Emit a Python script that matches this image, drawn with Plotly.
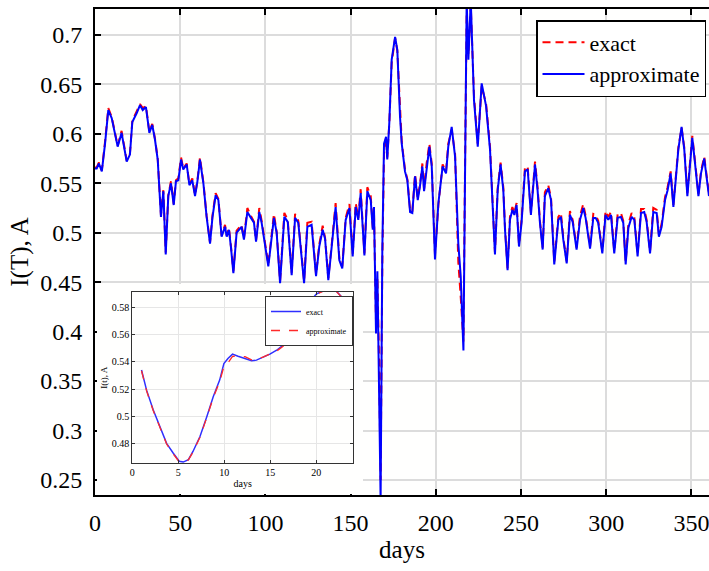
import plotly.graph_objects as go

# ---------------- main chart data ----------------
days = [0, 1, 2.3, 4, 5.9, 7.8, 9.8, 11.3, 13.3, 15.6, 18.6, 20.5, 21.9, 24.5, 26.4, 28, 29.9,
        31.9, 33.6, 35.2, 36.8, 38.7, 40.1, 41.5, 43, 44.6, 46.2, 47.5, 48.9, 50.5, 51.8, 53.8,
        55.4, 57.1, 58.7, 60.1, 61.6, 63.6, 65.5, 67.5, 68.9, 70.8, 72.4, 74.3, 76.3, 77.3, 78.6,
        79.8, 81.2, 83.1, 86, 87.4, 89.4, 91.5, 93.3, 94.5, 96.4, 97.8, 99.8, 101.7, 105, 106.6,
        108.6, 111.1, 113.1, 115.4, 117.4, 119.3, 122.7, 124.6, 127.1, 129.7, 131.6, 133.6, 135,
        136.9, 138.9, 141.2, 143.4, 145.1, 147.1, 149.3, 151.2, 153, 154.5, 155.9, 158.1, 159.8,
        161.8, 163, 163.7, 164.9, 165.7, 166.7, 167.6, 168.6, 169.6, 170.8, 171.5, 172.7, 174.1,
        176.1, 177.4, 179, 180, 181.9, 183.3, 184.9, 186.2, 187.8, 189.4, 190.7, 192.1, 193.1,
        194.6, 196.2, 197.6, 199.5, 201.5, 204, 206, 207.3, 209.3, 211.3, 213.2, 214.6, 216.2,
        217.1, 218.1, 219.1, 220.5, 222.4, 224.6, 226.9, 229.5, 231.8, 234.7, 236.3, 238, 239.6,
        240.6, 242.1, 243.5, 244.9, 246.1, 247.4, 248.8, 250.3, 252.3, 253.9, 255.8, 258.2, 259.7,
        261.1, 262.7, 264, 266, 267.6, 269.5, 271.9, 273.4, 274.8, 276.8, 278.7, 280.3, 282.6,
        284.6, 286.5, 287.9, 290.5, 292.4, 293.8, 295.3, 297.7, 299.6, 301.2, 302.8, 304.7, 306.7,
        308.6, 310, 311.4, 313, 314.9, 316.5, 318.4, 320.4, 322.3, 323.7, 325.7, 327.6, 329.6,
        330.9, 332.5, 334.5, 336, 337.8, 339.4, 340.3, 342.3, 344.2, 345.8, 347.6, 349.1, 350.5,
        352.1, 354.1, 355.6, 357.5, 360.3]

approximate = [0.565, 0.565, 0.570, 0.562, 0.590, 0.624, 0.616, 0.604, 0.587, 0.601, 0.572, 0.579,
               0.612, 0.621, 0.629, 0.624, 0.627, 0.601, 0.609, 0.594, 0.574, 0.516, 0.542, 0.478,
               0.537, 0.550, 0.528, 0.552, 0.553, 0.574, 0.564, 0.569, 0.548, 0.553, 0.537, 0.552,
               0.574, 0.550, 0.516, 0.489, 0.515, 0.538, 0.533, 0.496, 0.506, 0.496, 0.503, 0.485,
               0.459, 0.500, 0.506, 0.493, 0.521, 0.515, 0.510, 0.491, 0.521, 0.510, 0.488, 0.466,
               0.515, 0.500, 0.449, 0.516, 0.511, 0.457, 0.515, 0.510, 0.449, 0.506, 0.508, 0.456,
               0.486, 0.503, 0.494, 0.452, 0.486, 0.526, 0.472, 0.464, 0.513, 0.525, 0.476, 0.526,
               0.513, 0.540, 0.477, 0.542, 0.533, 0.503, 0.526, 0.398, 0.461, 0.348, 0.230, 0.483,
               0.590, 0.597, 0.574, 0.611, 0.675, 0.698, 0.685, 0.617, 0.590, 0.562, 0.553, 0.521,
               0.520, 0.557, 0.533, 0.547, 0.567, 0.542, 0.567, 0.587, 0.567, 0.473, 0.530, 0.567,
               0.560, 0.587, 0.607, 0.577, 0.489, 0.456, 0.381, 0.567, 0.735, 0.675, 0.735, 0.634,
               0.587, 0.651, 0.628, 0.584, 0.478, 0.543, 0.569, 0.543, 0.503, 0.462, 0.513, 0.523,
               0.518, 0.528, 0.486, 0.510, 0.562, 0.564, 0.518, 0.569, 0.543, 0.510, 0.483, 0.537,
               0.545, 0.533, 0.468, 0.513, 0.516, 0.493, 0.469, 0.518, 0.511, 0.483, 0.513, 0.525,
               0.515, 0.484, 0.515, 0.515, 0.510, 0.479, 0.518, 0.513, 0.518, 0.479, 0.515, 0.516,
               0.510, 0.468, 0.505, 0.516, 0.513, 0.476, 0.520, 0.521, 0.511, 0.479, 0.521, 0.520,
               0.496, 0.506, 0.533, 0.543, 0.560, 0.526, 0.543, 0.584, 0.607, 0.584, 0.537, 0.570,
               0.596, 0.570, 0.537, 0.560, 0.575, 0.537]

exact = [0.566, 0.566, 0.571, 0.563, 0.592, 0.626, 0.617, 0.604, 0.588, 0.603, 0.573, 0.580,
         0.613, 0.623, 0.630, 0.626, 0.628, 0.602, 0.610, 0.595, 0.575, 0.518, 0.543, 0.480,
         0.538, 0.552, 0.529, 0.553, 0.555, 0.576, 0.565, 0.570, 0.549, 0.555, 0.538, 0.553,
         0.576, 0.551, 0.517, 0.490, 0.517, 0.540, 0.534, 0.497, 0.508, 0.497, 0.505, 0.486,
         0.461, 0.502, 0.508, 0.494, 0.525, 0.517, 0.511, 0.492, 0.525, 0.512, 0.489, 0.468,
         0.519, 0.501, 0.451, 0.520, 0.513, 0.459, 0.519, 0.512, 0.451, 0.510, 0.511, 0.458,
         0.488, 0.507, 0.495, 0.454, 0.488, 0.530, 0.474, 0.466, 0.515, 0.529, 0.478, 0.530,
         0.515, 0.544, 0.479, 0.546, 0.537, 0.505, 0.522, 0.410, 0.455, 0.370, 0.250, 0.470,
         0.580, 0.596, 0.576, 0.610, 0.672, 0.697, 0.684, 0.620, 0.592, 0.564, 0.554, 0.523,
         0.521, 0.559, 0.535, 0.549, 0.570, 0.544, 0.570, 0.590, 0.570, 0.478, 0.528, 0.569,
         0.562, 0.590, 0.604, 0.580, 0.470, 0.435, 0.390, 0.560, 0.720, 0.680, 0.730, 0.638,
         0.590, 0.648, 0.630, 0.587, 0.480, 0.545, 0.571, 0.546, 0.505, 0.464, 0.516, 0.526,
         0.520, 0.530, 0.488, 0.513, 0.566, 0.567, 0.520, 0.572, 0.546, 0.512, 0.485, 0.541,
         0.548, 0.535, 0.470, 0.516, 0.520, 0.495, 0.471, 0.522, 0.513, 0.485, 0.517, 0.529,
         0.517, 0.486, 0.519, 0.518, 0.512, 0.481, 0.522, 0.516, 0.521, 0.481, 0.519, 0.520,
         0.512, 0.470, 0.509, 0.520, 0.515, 0.478, 0.524, 0.524, 0.513, 0.481, 0.525, 0.523,
         0.498, 0.509, 0.536, 0.546, 0.562, 0.528, 0.546, 0.586, 0.606, 0.586, 0.540, 0.572,
         0.598, 0.572, 0.539, 0.562, 0.577, 0.539]

x_ticks = [0, 50, 100, 150, 200, 250, 300, 350]
y_ticks = [0.25, 0.3, 0.35, 0.4, 0.45, 0.5, 0.55, 0.6, 0.65, 0.7]
y_tick_text = ["0.25", "0.3", "0.35", "0.4", "0.45", "0.5", "0.55", "0.6", "0.65", "0.7"]

# ---------------- inset data ----------------
inset_days = [1.0, 1.56, 2.28, 3.0, 3.73, 4.46, 5.1, 5.54, 6.1, 6.6, 7.36, 8.1, 8.8, 9.5, 9.96,
              10.4, 10.9, 11.5, 12.25, 12.97, 13.5, 14.2, 14.96, 15.7, 16.4, 17.1, 17.9, 18.6,
              19.3, 20.0, 20.8, 21.5, 22.2, 22.9, 23.5, 24.0]
inset_exact = [0.534, 0.519, 0.5045, 0.492, 0.480, 0.4727, 0.4668, 0.4662, 0.468, 0.474, 0.485,
               0.4996, 0.5143, 0.5266, 0.5388, 0.5425, 0.5457, 0.5442, 0.5425, 0.5408, 0.5413,
               0.5432, 0.5457, 0.5486, 0.5523, 0.5584, 0.5682, 0.5756, 0.5842, 0.5900, 0.5925,
               0.5928, 0.5920, 0.5870, 0.5750, 0.5600]
inset_approx = [0.5335, 0.5185, 0.5040, 0.4915, 0.4795, 0.4722, 0.4664, 0.4660, 0.4678, 0.4735,
                0.4845, 0.4990, 0.5135, 0.5255, 0.5365, 0.5392, 0.5440, 0.5445, 0.5438, 0.5415,
                0.5418, 0.5435, 0.5455, 0.5480, 0.5515, 0.5575, 0.5672, 0.5748, 0.5838, 0.5898,
                0.5922, 0.5926, 0.5918, 0.5868, 0.5748, 0.5598]
inset_x_ticks = [0, 5, 10, 15, 20]
inset_y_ticks = [0.48, 0.5, 0.52, 0.54, 0.56, 0.58]
inset_y_text = ["0.48", "0.5", "0.52", "0.54", "0.56", "0.58"]

FONT = "Liberation Serif"
W, H = 709, 571
L, R, T, B = 95, 0, 9, 76
PW, PH = W - L - R, H - T - B
NB = "\u00a0"


def px_x(p):
    return (p - L) / PW


def px_y(p):
    return (H - B - p) / PH


fig = go.Figure()

# main traces
fig.add_trace(go.Scatter(x=days, y=exact, mode="lines", name="exact",
                         line=dict(color="#ff0000", width=2, dash="8px,5px"),
                         xaxis="x", yaxis="y", legend="legend"))
fig.add_trace(go.Scatter(x=days, y=approximate, mode="lines", name="approximate",
                         line=dict(color="#0000ff", width=2),
                         xaxis="x", yaxis="y", legend="legend"))
# overlay x axis carrying the inside tick marks (bottom and top)
fig.add_trace(go.Scatter(x=[], y=[], xaxis="x4", yaxis="y", showlegend=False,
                         hoverinfo="skip"))

# white cover behind inset (its own subplot background)
fig.add_trace(go.Scatter(x=[], y=[], xaxis="x2", yaxis="y2", showlegend=False,
                         hoverinfo="skip"))

# inset traces
fig.add_trace(go.Scatter(x=inset_days, y=inset_exact, mode="lines", name="exact",
                         line=dict(color="#2f2fff", width=1.5),
                         xaxis="x3", yaxis="y3", legend="legend2"))
fig.add_trace(go.Scatter(x=inset_days, y=inset_approx, mode="lines", name="approximate",
                         line=dict(color="#ff2a2a", width=1.3, dash="dash"),
                         xaxis="x3", yaxis="y3", legend="legend2"))

grid = "#dcdcdc"

fig.update_layout(
    template="none",
    width=W, height=H,
    margin=dict(l=L, r=R, t=T, b=B, pad=0),
    paper_bgcolor="#ffffff",
    plot_bgcolor="#fffffe",
    font=dict(family=FONT, color="black", size=24),
    xaxis=dict(domain=[0, 1], anchor="y", range=[0, 360.3], tickvals=x_ticks,
               ticks="outside", ticklen=5, tickwidth=1, tickcolor="rgba(0,0,0,0)",
               showline=True, linecolor="black", linewidth=1.8, mirror=True,
               showgrid=True, gridcolor=grid, gridwidth=1.8, zeroline=False,
               tickfont=dict(family=FONT, size=24), ticklabeloverflow="allow",
               title=dict(text="days", font=dict(family=FONT, size=25), standoff=6)),
    xaxis4=dict(overlaying="x", anchor="y", range=[0, 360.3], tickvals=x_ticks,
                ticks="inside", ticklen=6, tickwidth=1.5, tickcolor="black",
                showticklabels=False, showgrid=False, zeroline=False,
                showline=True, linecolor="black", linewidth=1.8, mirror="ticks"),
    yaxis=dict(domain=[0, 1], anchor="x", range=[0.2348, 0.7262], tickvals=y_ticks,
               ticktext=[t + NB for t in y_tick_text],
               ticks="inside", ticklen=6, tickwidth=1.5, tickcolor="black",
               showline=True, linecolor="black", linewidth=1.8, mirror=False,
               showgrid=True, gridcolor=grid, gridwidth=1.8, zeroline=False,
               tickfont=dict(family=FONT, size=24),
               title=dict(text="I(T), A", font=dict(family=FONT, size=25), standoff=5)),
    xaxis2=dict(domain=[px_x(97), px_x(363)], anchor="y2", range=[0, 1],
                showgrid=False, zeroline=False, showline=False, ticks="",
                showticklabels=False, fixedrange=True),
    yaxis2=dict(domain=[px_y(494), px_y(284)], anchor="x2", range=[0, 1],
                showgrid=False, zeroline=False, showline=False, ticks="",
                showticklabels=False, fixedrange=True),
    xaxis3=dict(domain=[px_x(132.3), px_x(353)], anchor="y3", range=[0, 24],
                tickvals=inset_x_ticks, ticks="inside", ticklen=3, tickwidth=1,
                tickcolor="#333", showline=True, linecolor="#333", linewidth=1,
                mirror="ticks", showgrid=True, gridcolor="#e6e6e6", gridwidth=1,
                zeroline=False, tickfont=dict(family=FONT, size=10),
                title=dict(text="days", font=dict(family=FONT, size=10), standoff=2)),
    yaxis3=dict(domain=[px_y(463.3), px_y(292)], anchor="x3", range=[0.4653, 0.5915],
                tickvals=inset_y_ticks, ticktext=inset_y_text, ticks="inside", ticklen=3,
                tickwidth=1, tickcolor="#333", showline=True, linecolor="#333",
                linewidth=1, mirror="ticks", showgrid=True, gridcolor="#e6e6e6",
                gridwidth=1, zeroline=False, tickfont=dict(family=FONT, size=10),
                title=dict(text="I(t), A", font=dict(family=FONT, size=9), standoff=2)),
    legend=dict(x=px_x(706), y=px_y(20), xanchor="right", yanchor="top",
                bgcolor="white", bordercolor="black", borderwidth=1.5,
                font=dict(family=FONT, size=22), itemwidth=42, tracegroupgap=0,
                traceorder="normal"),
    legend2=dict(x=px_x(353), y=px_y(296), xanchor="right", yanchor="top",
                 bgcolor="white", bordercolor="#333", borderwidth=1,
                 font=dict(family=FONT, size=8), itemwidth=30, tracegroupgap=0,
                 traceorder="normal"),
    showlegend=True,
)

fig.write_html("out.html")
